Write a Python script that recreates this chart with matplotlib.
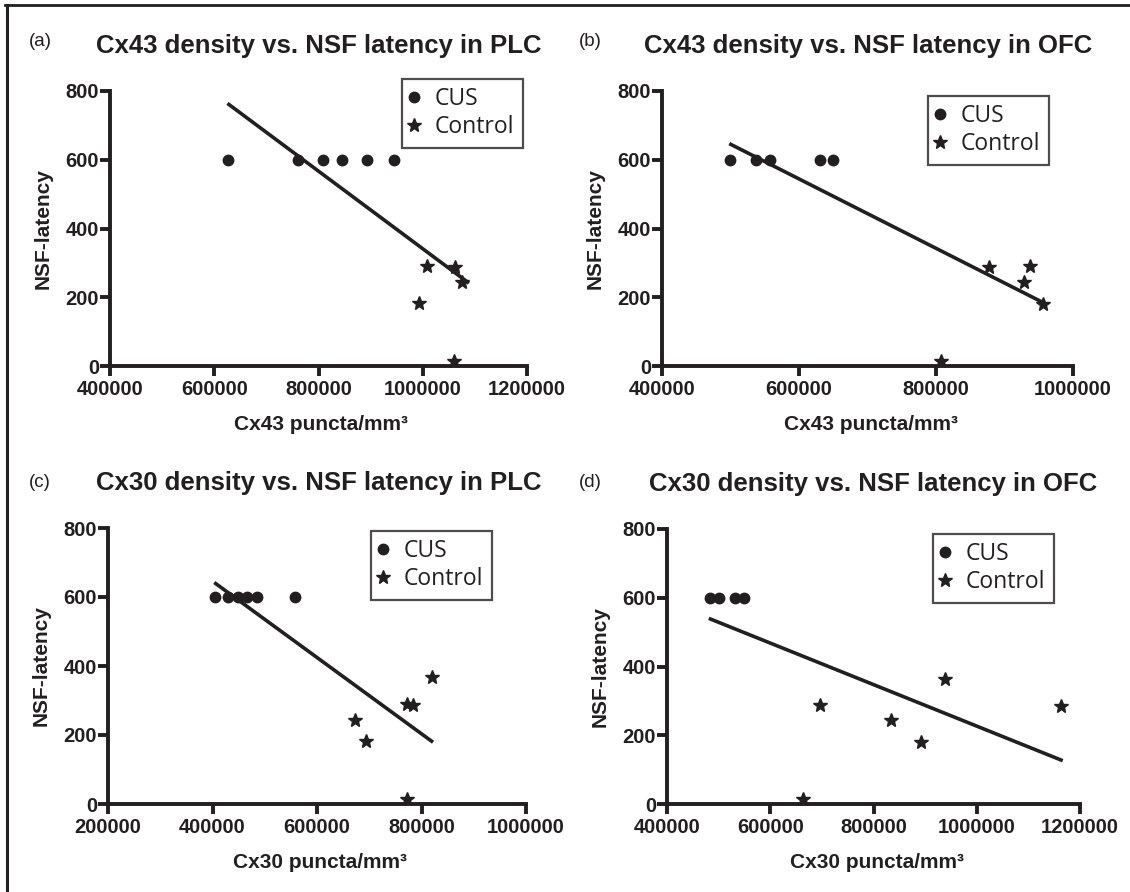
import matplotlib
matplotlib.use("Agg")
import matplotlib.pyplot as plt
from matplotlib.lines import Line2D

# ---------------- data ----------------
titles = ["Cx43 density vs. NSF latency in PLC",
          "Cx43 density vs. NSF latency in OFC",
          "Cx30 density vs. NSF latency in PLC",
          "Cx30 density vs. NSF latency in OFC"]
panel_tags = ["(a)", "(b)", "(c)", "(d)"]
x_labels = ["Cx43 puncta/mm³", "Cx43 puncta/mm³", "Cx30 puncta/mm³", "Cx30 puncta/mm³"]
y_label = "NSF-latency"
legend_labels = ["CUS", "Control"]

y_ticks = [0, 200, 400, 600, 800]
a_xticks = [400000, 600000, 800000, 1000000, 1200000]
b_xticks = [400000, 600000, 800000, 1000000]
c_xticks = [200000, 400000, 600000, 800000, 1000000]
d_xticks = [400000, 600000, 800000, 1000000, 1200000]

# panel (a)
a_cus_x = [627000, 760600, 808000, 846000, 893000, 945000]
a_cus_y = [600, 600, 600, 600, 600, 600]
a_ctrl_x = [1008700, 1062600, 1076000, 992000, 1060500]
a_ctrl_y = [290, 288, 245, 182, 15]
a_fit_x = [625300, 1088700]
a_fit_y = [764, 241]

# panel (b)
b_cus_x = [499800, 536600, 557600, 630100, 650000]
b_cus_y = [600, 600, 600, 600, 600]
b_ctrl_x = [877000, 936900, 928000, 956900, 807100]
b_ctrl_y = [288, 291, 244, 181, 14]
b_fit_x = [498200, 957900]
b_fit_y = [647, 183]

# panel (c)
c_cus_x = [404800, 429000, 448300, 465500, 484800, 557200]
c_cus_y = [600, 600, 600, 600, 600, 600]
c_ctrl_x = [772400, 782800, 820700, 672400, 693800, 772400]
c_ctrl_y = [290, 287, 367, 244, 182, 14]
c_fit_x = [403400, 822100]
c_fit_y = [642, 179]

# panel (d)
d_cus_x = [482400, 499800, 531200, 550100]
d_cus_y = [600, 600, 600, 600]
d_ctrl_x = [663900, 696000, 833500, 892100, 938900, 1163700]
d_ctrl_y = [14, 287, 244, 181, 365, 285]
d_fit_x = [481000, 1166500]
d_fit_y = [540, 126]

# ---------------- styling / layout ----------------
W, H = 1130, 892
INK = "#231f20"
plt.rcParams["font.family"] = ["Liberation Sans", "DejaVu Sans"]

fig = plt.figure(figsize=(W / 100, H / 100), dpi=100)

# axes boxes in pixel coords: left, right, top, bottom
boxes = [(110, 527, 91, 366),
         (662, 1073, 91, 366),
         (108, 526, 528, 804),
         (667, 1080, 529, 804)]
legend_pos = [(402, 79), (928, 96), (371, 531), (933, 534)]
title_cx = [318.5, 867.7, 318.5, 873]
tag_pos = [(29, 46), (579, 46), (29, 487), (579, 487)]

panels = [
    (a_cus_x, a_cus_y, a_ctrl_x, a_ctrl_y, a_fit_x, a_fit_y, a_xticks),
    (b_cus_x, b_cus_y, b_ctrl_x, b_ctrl_y, b_fit_x, b_fit_y, b_xticks),
    (c_cus_x, c_cus_y, c_ctrl_x, c_ctrl_y, c_fit_x, c_fit_y, c_xticks),
    (d_cus_x, d_cus_y, d_ctrl_x, d_ctrl_y, d_fit_x, d_fit_y, d_xticks),
]

def fx(px):
    return px / W

def fy(py):
    return 1 - py / H

for i, (cx, cy, tx, ty, fxs, fys, xt) in enumerate(panels):
    l, r, t, b = boxes[i]
    ax = fig.add_axes([fx(l), fy(b), (r - l) / W, (b - t) / H])
    ax.set_facecolor("none")
    ax.plot(fxs, fys, color=INK, lw=2.6, solid_capstyle="butt", zorder=2)
    h1, = ax.plot(cx, cy, linestyle="none", marker="o", ms=7.5, color=INK,
                  clip_on=False, zorder=3)
    h2, = ax.plot(tx, ty, linestyle="none", marker="*", ms=10.5, color=INK,
                  clip_on=False, zorder=3)
    ax.set_xlim(xt[0], xt[-1])
    ax.set_ylim(0, 800)
    ax.set_xticks(xt)
    ax.set_xticklabels([str(v) for v in xt])
    ax.set_yticks(y_ticks)
    ax.set_yticklabels([str(v) for v in y_ticks])
    for s in ["top", "right"]:
        ax.spines[s].set_visible(False)
    for s in ["left", "bottom"]:
        ax.spines[s].set_linewidth(2.8)
        ax.spines[s].set_color(INK)
        ax.spines[s].set_capstyle("projecting")
    ax.tick_params(axis="both", direction="out", length=7, width=2.8,
                   color=INK, labelcolor=INK, labelsize=14.5)
    ax.tick_params(axis="y", pad=1)
    ax.tick_params(axis="x", pad=3)
    for lab in ax.get_xticklabels() + ax.get_yticklabels():
        lab.set_fontweight("bold")

    # title
    fig.text(fx(title_cx[i]), fy(t - 37.5), titles[i], ha="center",
             va="baseline", fontsize=18.5, fontweight="bold", color=INK)
    # panel tag
    fig.text(fx(tag_pos[i][0]), fy(tag_pos[i][1]), panel_tags[i], ha="left",
             va="baseline", fontsize=13.5, color=INK)
    # axis labels
    fig.text(fx((l + r) / 2 + 3), fy(b + 64), x_labels[i], ha="center",
             va="baseline", fontsize=15, fontweight="bold", color=INK)
    fig.text(fx(l - 66.5), fy((t + b) / 2), y_label, ha="center", va="center",
             rotation=90, fontsize=15, fontweight="bold", color=INK)

    # legend
    lx, ly = legend_pos[i]
    leg = ax.legend([h1, h2], legend_labels, loc="upper left",
                    bbox_to_anchor=(fx(lx), fy(ly)), bbox_transform=fig.transFigure,
                    borderaxespad=0, frameon=True, fancybox=False,
                    handlelength=0.3, handletextpad=0.75, borderpad=0.37,
                    labelspacing=0.17, numpoints=1,
                    prop={"family": ["Open Sans", "DejaVu Sans"], "size": 16.5})
    leg.get_frame().set_edgecolor(INK)
    leg.get_frame().set_linewidth(1.6)
    for txt in leg.get_texts():
        txt.set_color(INK)

# outer frame lines (top and left)
fig.add_artist(Line2D([fx(5), 1.0], [fy(4.7), fy(4.7)], color=INK, lw=2.0,
                      transform=fig.transFigure))
fig.add_artist(Line2D([fx(6.7), fx(6.7)], [fy(4.7), 0.0], color=INK, lw=2.2,
                      transform=fig.transFigure))

fig.savefig("out.png", dpi=100)
